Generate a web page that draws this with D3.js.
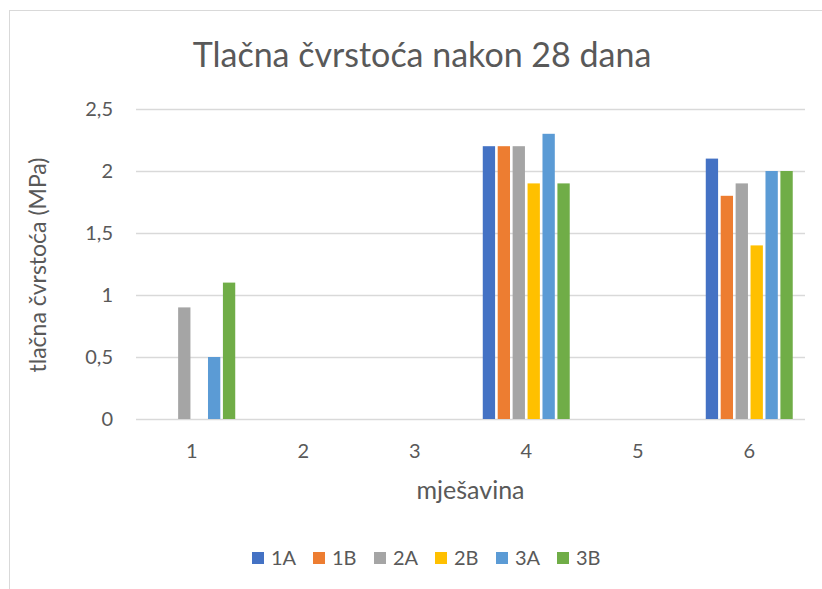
<!DOCTYPE html>
<html>
<head>
<meta charset="utf-8">
<script src="https://cdn.jsdelivr.net/npm/d3@7"></script>
<style>
  body { margin: 0; background: #fff; }
  text { font-family: Lato, "Open Sans", sans-serif; fill: #595959; }
</style>
</head>
<body>
<svg id="chart" width="822" height="589"></svg>
<script>
// data (null = no bar)
var categories = ["1", "2", "3", "4", "5", "6"];
var seriesNames = ["1A", "1B", "2A", "2B", "3A", "3B"];
var v1A = [null, null, null, 2.2, null, 2.1];
var v1B = [null, null, null, 2.2, null, 1.8];
var v2A = [0.9, null, null, 2.2, null, 1.9];
var v2B = [null, null, null, 1.9, null, 1.4];
var v3A = [0.5, null, null, 2.3, null, 2.0];
var v3B = [1.1, null, null, 1.9, null, 2.0];
var yTicks = [0, 0.5, 1, 1.5, 2, 2.5];
var colors = ["#4472C4", "#ED7D31", "#A5A5A5", "#FFC000", "#5B9BD5", "#70AD47"];

var seriesValues = [v1A, v1B, v2A, v2B, v3A, v3B];

var svg = d3.select("#chart");
var fmt = function(d) { return String(d).replace(".", ","); };

// chart border
svg.append("rect")
   .attr("x", 9.5).attr("y", 10.5)
   .attr("width", 830).attr("height", 600)
   .attr("fill", "#fff")
   .attr("stroke", "#d9d9d9");

var plotL = 136, plotR = 805, plotT = 109, plotB = 419;

var x0 = d3.scaleBand().domain(categories).range([plotL, plotR]);
var gap = x0.bandwidth() * 0.11;
var x1 = d3.scaleBand().domain(seriesNames)
           .range([gap, x0.bandwidth() - gap])
           .paddingInner(0.175);
var y = d3.scaleLinear().domain([0, 2.5]).range([plotB, plotT]);

// gridlines
svg.append("g")
   .selectAll("line")
   .data(yTicks)
   .enter().append("line")
   .attr("x1", plotL).attr("x2", plotR)
   .attr("y1", function(d) { return Math.round(y(d)) + 0.5; })
   .attr("y2", function(d) { return Math.round(y(d)) + 0.5; })
   .attr("stroke", "#d9d9d9")
   .attr("stroke-width", 1.3);

// y tick labels
svg.append("g")
   .selectAll("text")
   .data(yTicks)
   .enter().append("text")
   .attr("x", 113)
   .attr("y", function(d) { return y(d); })
   .attr("dy", "0.35em")
   .attr("text-anchor", "end")
   .attr("font-size", "20px")
   .text(fmt);

// x tick labels
svg.append("g")
   .selectAll("text")
   .data(categories)
   .enter().append("text")
   .attr("x", function(d) { return x0(d) + x0.bandwidth() / 2; })
   .attr("y", 451)
   .attr("dy", "0.35em")
   .attr("text-anchor", "middle")
   .attr("font-size", "20px")
   .text(function(d) { return d; });

// bars
var groups = svg.append("g")
   .selectAll("g")
   .data(seriesNames)
   .enter().append("g")
   .attr("fill", function(d, i) { return colors[i]; });

groups.selectAll("rect")
   .data(function(s, i) {
       return categories.map(function(c, j) {
           return { cat: c, series: s, value: seriesValues[i][j] };
       }).filter(function(d) { return d.value != null; });
   })
   .enter().append("rect")
   .attr("x", function(d) { return x0(d.cat) + x1(d.series); })
   .attr("width", x1.bandwidth())
   .attr("y", function(d) { return y(d.value); })
   .attr("height", function(d) { return y(0) - y(d.value); });

// title
svg.append("text")
   .attr("x", 422)
   .attr("y", 55)
   .attr("dy", "0.35em")
   .attr("text-anchor", "middle")
   .attr("font-size", "34px")
   .text("Tlačna čvrstoća nakon 28 dana");

// axis titles
svg.append("text")
   .attr("x", (plotL + plotR) / 2)
   .attr("y", 490)
   .attr("dy", "0.35em")
   .attr("text-anchor", "middle")
   .attr("font-size", "25px")
   .text("mješavina");

svg.append("text")
   .attr("transform", "translate(38," + ((plotT + plotB) / 2 + 1) + ") rotate(-90)")
   .attr("dy", "0.35em")
   .attr("text-anchor", "middle")
   .attr("font-size", "23px")
   .text("tlačna čvrstoća (MPa)");

// legend
var legend = svg.append("g")
   .selectAll("g")
   .data(seriesNames)
   .enter().append("g")
   .attr("transform", function(d, i) { return "translate(" + (252 + i * 61) + ",558)"; });

legend.append("rect")
   .attr("x", 0).attr("y", -6)
   .attr("width", 12).attr("height", 12)
   .attr("fill", function(d, i) { return colors[i]; });

legend.append("text")
   .attr("x", 19)
   .attr("dy", "0.35em")
   .attr("font-size", "20px")
   .text(function(d) { return d; });
</script>
</body>
</html>
